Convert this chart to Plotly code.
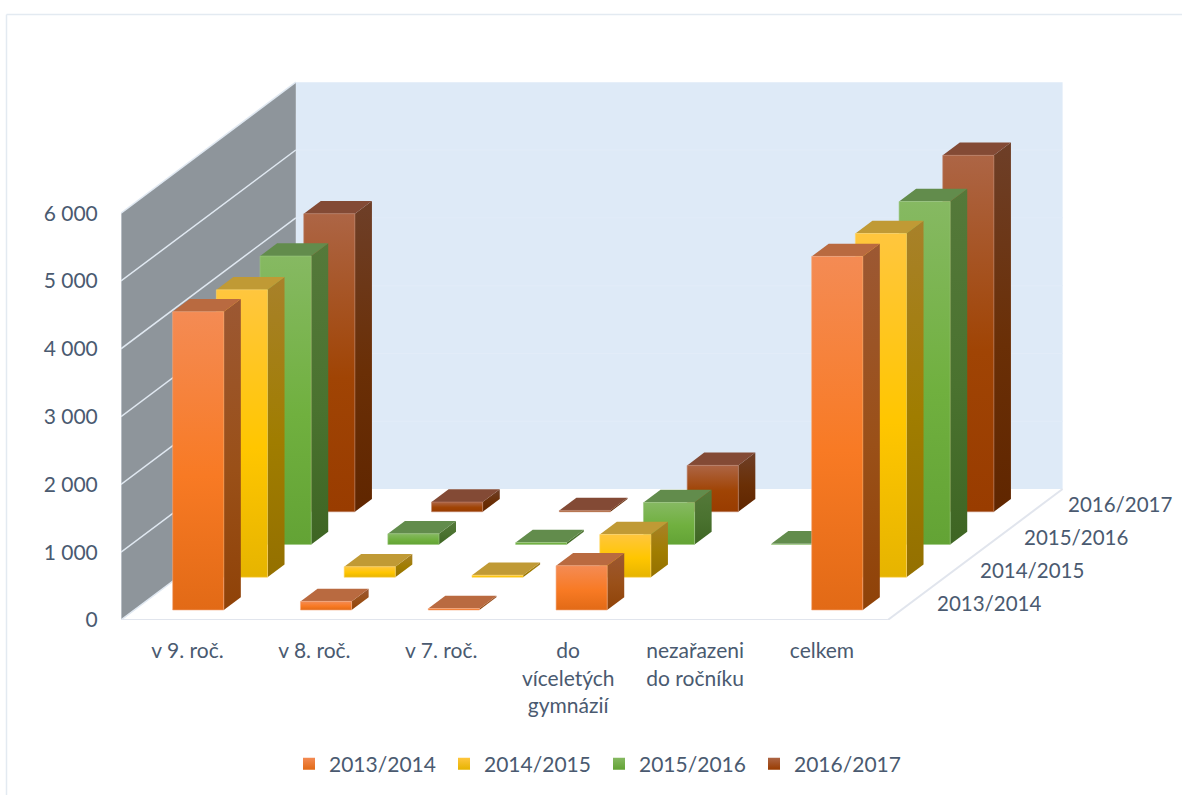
import plotly.graph_objects as go

categories = ["v 9. roč.", "v 8. roč.", "v 7. roč.", "do<br>víceletých<br>gymnázií", "nezařazeni<br>do ročníku", "celkem"]
series_names = ["2013/2014", "2014/2015", "2015/2016", "2016/2017"]
values_2013 = [4400, 127, 22, 653, None, 5215]
values_2014 = [4240, 155, 30, 631, None, 5070]
values_2015 = [4254, 158, 30, 619, 10, 5059]
values_2016 = [4395, 143, 20, 684, None, 5257]
value_ticks = [0, 1000, 2000, 3000, 4000, 5000, 6000]
value_tick_labels = ["0", "1 000", "2 000", "3 000", "4 000", "5 000", "6 000"]
all_values = [values_2013, values_2014, values_2015, values_2016]

# face colours per series: top / middle / bottom of a bar face
front_colors = [["#f48b54", "#f87a24", "#e26a16"], ["#ffc63e", "#ffc600", "#e6b400"],
                ["#86b962", "#70b03f", "#63a335"], ["#ad6545", "#a04404", "#993c00"]]
side_colors = [["#9c5833", "#9a5018", "#8f4208"], ["#a8812a", "#a07d00", "#947000"],
               ["#55793a", "#4a722f", "#3e6523"], ["#6e3f28", "#6a2f06", "#602600"]]
roof_colors = ["#b96a40", "#c09a35", "#628c4c", "#834a35"]
edge_colors = ["#f5a77c", "#ffd768", "#9cc77f", "#bd8268"]
TEXT = "#4a5a70"

W, H = 1182, 795
LEFT, FLOOR = 121, 620
CAT_PX, K_PX = 127.8, 0.0678          # px per category, px per value unit
DX, DY = 43.7, 32.75                  # px shift of one series step in depth
BAR_W, BAR_D = 0.40, 0.39             # bar footprint, in category / series units
DEPTHS = len(series_names)
TOP = 6000


def proj(cat, val, depth):
    """Oblique projection of (category, value, depth) to the 2-D axes."""
    return cat + depth * DX / CAT_PX, val + depth * DY / K_PX


def poly(points):
    xs, ys = zip(*[proj(*p) for p in points])
    return list(xs) + [xs[0]], list(ys) + [ys[0]]


def face(points, fill=None, scale=None, line=None, lw=0):
    x, y = poly(points)
    kw = dict(x=x, y=y, mode="lines", fill="toself", showlegend=False, hoverinfo="skip",
              line=dict(color=line or "rgba(0,0,0,0)", width=lw))
    if scale:
        kw["fillgradient"] = dict(type="vertical", start=max(y), stop=min(y),
                                  colorscale=[[0, scale[0]], [0.55, scale[1]], [1, scale[2]]])
    else:
        kw["fillcolor"] = fill
    return go.Scatter(**kw)


def seg(a, b, color, width):
    x, y = poly([a, b])
    return go.Scatter(x=x[:2], y=y[:2], mode="lines", showlegend=False, hoverinfo="skip",
                      line=dict(color=color, width=width))


fig = go.Figure()

# legend entries
legend_tops = [c[0] for c in front_colors]
legend_ends = [c[2] for c in front_colors]
for name, a, b in zip(series_names, legend_tops, legend_ends):
    fig.add_trace(go.Scatter(x=[None], y=[None], mode="markers", name=name, hoverinfo="skip",
                             marker=dict(symbol="square", size=12, color=a,
                                         gradient=dict(type="vertical", color=b))))

ncat = len(categories)
# walls and floor
fig.add_trace(face([(0, 0, DEPTHS), (ncat, 0, DEPTHS), (ncat, TOP, DEPTHS), (0, TOP, DEPTHS)], fill="#deeaf7"))
fig.add_trace(face([(0, 0, 0), (0, 0, DEPTHS), (0, TOP, DEPTHS), (0, TOP, 0)], fill="#8e959b"))
for v in value_ticks[1:-1]:
    fig.add_trace(seg((0, v, DEPTHS), (ncat, v, DEPTHS), "#e2ecf8", 1))
for v in value_ticks[1:]:
    fig.add_trace(seg((0, v, 0), (0, v, DEPTHS), "#e0e8f1", 1.5))
fig.add_trace(seg((0, 0, 0), (0, 0, DEPTHS), "#e0e8f1", 1.5))
fig.add_trace(seg((0, 0, 0), (0, TOP, 0), "#dfe6ee", 1))
fig.add_trace(seg((0, 0, 0), (ncat, 0, 0), "#e1e5ed", 2))
fig.add_trace(seg((ncat, 0, 0), (ncat, 0, DEPTHS), "#e1e5ed", 2))

# bars, painted back to front
for s in reversed(range(DEPTHS)):
    for c, v in enumerate(all_values[s]):
        if v is None:
            continue
        x0, x1 = c + 0.5 - BAR_W / 2, c + 0.5 + BAR_W / 2
        d0, d1 = s + 0.5 - BAR_D / 2, s + 0.5 + BAR_D / 2
        fig.add_trace(face([(x1, 0, d0), (x1, 0, d1), (x1, v, d1), (x1, v, d0)], scale=side_colors[s]))
        fig.add_trace(face([(x0, v, d0), (x1, v, d0), (x1, v, d1), (x0, v, d1)], fill=roof_colors[s]))
        fig.add_trace(face([(x0, 0, d0), (x1, 0, d0), (x1, v, d0), (x0, v, d0)],
                           scale=front_colors[s], line=edge_colors[s], lw=0.6))

# depth axis labels
annotations = []
for s, name in enumerate(series_names):
    x, y = proj(ncat, 0, s + 0.5)
    annotations.append(dict(x=x, y=y, text=name, showarrow=False, xanchor="left", yanchor="middle",
                            xshift=25, yshift=1, font=dict(size=20.5, color=TEXT, family="Lato")))


def px_x(p):
    return (p - LEFT) / (W - LEFT)


def px_y(p):
    return (FLOOR - p) / FLOOR


frame = dict(color="#e3eaf1", width=1.5)
shapes = [dict(type="line", xref="paper", yref="paper", x0=px_x(6.5), x1=px_x(6.5), y0=px_y(14.5), y1=px_y(H), line=frame),
          dict(type="line", xref="paper", yref="paper", x0=px_x(6.5), x1=px_x(W), y0=px_y(14.5), y1=px_y(14.5), line=frame)]

fig.update_layout(
    width=W, height=H, autosize=False,
    margin=dict(l=LEFT, r=0, t=0, b=H - FLOOR, autoexpand=False),
    paper_bgcolor="white", plot_bgcolor="white",
    font=dict(family="Lato", size=21, color=TEXT),
    hovermode=False,
    shapes=shapes, annotations=annotations,
    xaxis=dict(range=[0, (W - LEFT) / CAT_PX], tickvals=[i * 0.993 + 0.52 for i in range(ncat)], ticktext=categories,
               showgrid=False, zeroline=False, showline=False, ticks="outside", ticklen=12,
               tickcolor="rgba(0,0,0,0)", tickangle=0, tickfont=dict(size=21, color=TEXT, family="Lato")),
    yaxis=dict(range=[0, FLOOR / K_PX], tickvals=value_ticks, ticktext=value_tick_labels,
               showgrid=False, zeroline=False, showline=False, ticks="outside", ticklen=18,
               tickcolor="rgba(0,0,0,0)", tickfont=dict(size=21, color=TEXT, family="Lato")),
    legend=dict(orientation="h", xanchor="left", yanchor="middle", x=px_x(289), y=px_y(764),
                entrywidth=110, entrywidthmode="pixels", itemwidth=30,
                font=dict(size=21, color=TEXT, family="Lato"), bgcolor="rgba(0,0,0,0)", traceorder="normal"),
)

fig.write_html("out.html", config={"displayModeBar": False},
               post_script="document.body.style.margin='0';document.documentElement.style.overflow='hidden';")
